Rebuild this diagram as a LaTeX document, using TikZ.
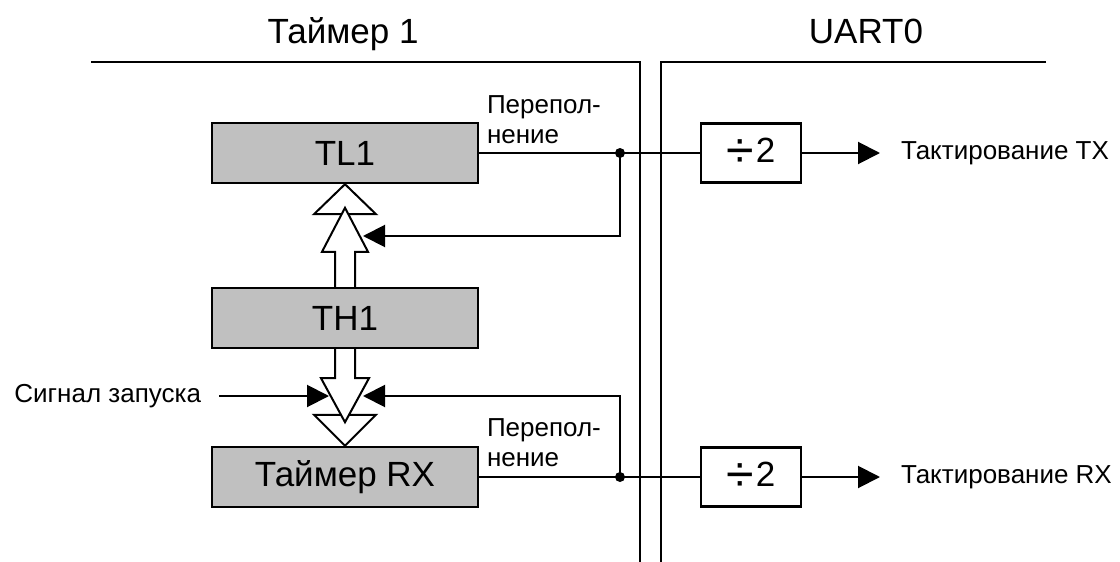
\documentclass[tikz,border=0pt]{standalone}
\usepackage{fontspec}
\setmainfont{Liberation Sans}
\usetikzlibrary{arrows.meta}
\definecolor{regfill}{HTML}{C0C0C0}
\newcommand{\halve}{\raisebox{-2.6pt}{\fontsize{25}{25}\selectfont ÷}\kern1pt 2}

\begin{document}
\begin{tikzpicture}[x=0.5pt,y=-0.5pt,>={Triangle[length=11pt,width=11pt]},line width=1pt,
  reg/.style={draw,line width=1.2pt,fill=regfill,minimum width=133pt,minimum height=30pt,font=\fontsize{17.5}{20}\selectfont},
  divbox/.style={draw,line width=1.2pt,fill=white,minimum width=50pt,minimum height=29.5pt,font=\fontsize{17.5}{20}\selectfont},
  lbl/.style={inner sep=0pt,font=\fontsize{13}{15}\selectfont},
  hollow/.style={draw,fill=white,line width=1pt}]
\useasboundingbox (0,0) rectangle (1120,562);

% the two parts and their borders
\node[font=\fontsize{17.5}{20}\selectfont,anchor=base] (tmr) at (343,43) {Таймер 1};
\node[font=\fontsize{17.5}{20}\selectfont,anchor=base] (uart) at (866,43) {UART0};
\draw (91,62) -| (640,562);
\draw (1046,62) -| (661,562);

% the registers and dividers
\node[reg] (tl) at (345,153) {TL1};
\node[reg] (th) at (345,318) {TH1};
\node[reg] (rx) at (345,477) {Таймер RX};
\node[divbox] (d1) at (751,153) {\halve};
\node[divbox] (d2) at (751,477) {\halve};

% the hollow arrows
\draw[hollow] (tl.south) -- ++(-31,30) -- ++(62,0) -- cycle;
\draw[hollow] ([xshift=-5pt]th.north) -- ++(0,-35) -- ++(-13,0) -- ++(23,-44) -- ++(23,44) -- ++(-13,0) -- ++(0,35);
\draw[hollow] (rx.north) -- ++(-31,-31) -- ++(62,0) -- cycle;
\draw[hollow] ([xshift=-5pt]th.south) -- ++(0,29) -- ++(-14,0) -- ++(24,44) -- ++(24,-44) -- ++(-14,0) -- ++(0,-29);

% the overflow lines
\coordinate (j1) at (620,153);
\coordinate (j2) at (620,477);
\coordinate (fb1) at (363,236);
\coordinate (fb2) at (363,396);
\coordinate (sg) at (329,396);
\draw (tl.east) -- (d1.west);
\draw (rx.east) -- (d2.west);
\fill (j1) circle[radius=2.5pt];
\fill (j2) circle[radius=2.5pt];
\draw[->] (j1) |- (fb1);
\draw[->] (j2) |- (fb2);
\node[lbl,anchor=base west,align=left] (ov1) at (486,143) {Перепол-\\нение};
\node[lbl,anchor=base west,align=left] (ov2) at (486,466) {Перепол-\\нение};

% the start signal
\node[lbl,anchor=east,inner xsep=8.5pt] (sig) at (219,396) {Сигнал запуска};
\draw[->] (sig.east) -- (sg);

% the clock outputs
\node[lbl,anchor=west,inner xsep=10pt] (tx) at (880,153) {Тактирование TX};
\node[lbl,anchor=west,inner xsep=10pt] (rxc) at (880,477) {Тактирование RX};
\draw[->] (d1.east) -- (tx.west);
\draw[->] (d2.east) -- (rxc.west);
\end{tikzpicture}
\end{document}
